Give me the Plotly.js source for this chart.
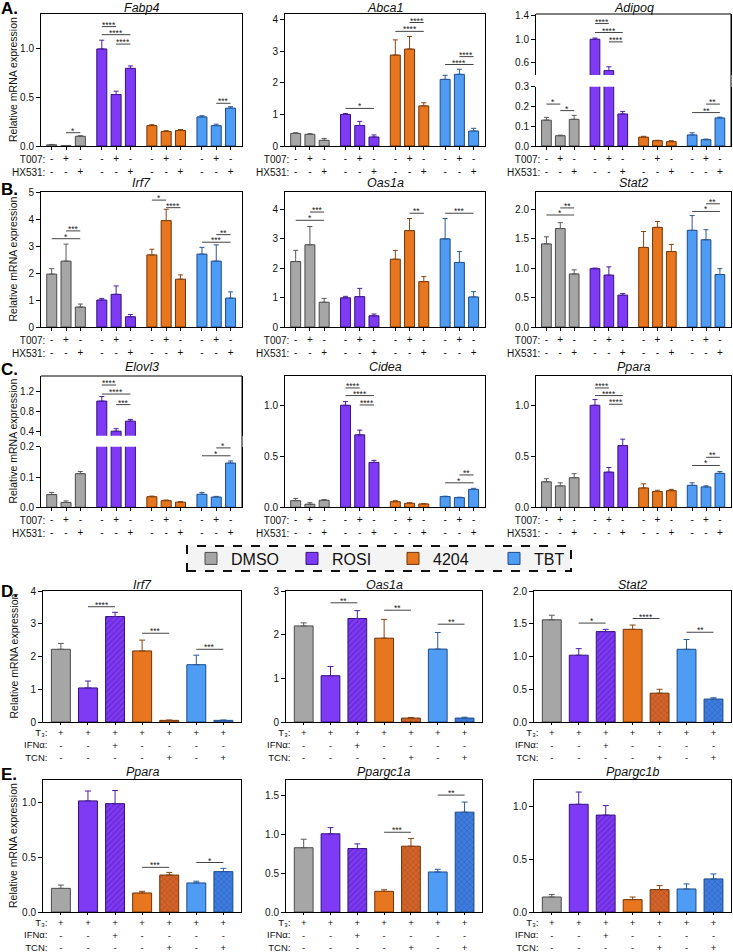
<!DOCTYPE html>
<html><head><meta charset="utf-8">
<script src="https://cdn.plot.ly/plotly-3.0.1.min.js"></script>
<style>html,body{margin:0;padding:0;background:#fff}#chart{width:733px;height:952px}</style>
</head><body><div id="chart"></div>
<script>
// ---------------- DATA ----------------
const groupNames = ['DMSO','ROSI','4204','TBT'];
const t007Row = ['-','+','-'];
const hx531Row = ['-','-','+'];
const t3Row  = ['+','+','+','+','+','+','+'];
const ifnRow = ['-','-','+','-','-','-','-'];
const tcnRow = ['-','-','-','-','+','-','+'];
const bar7Group = [0,1,1,2,2,3,3];

// Panel A
const fabp4Mean = [0.012,0.003,0.10, 1.00,0.53,0.80, 0.21,0.15,0.16, 0.30,0.21,0.39];
const fabp4Err  = [0.004,0.002,0.006, 0.09,0.035,0.025, 0.01,0.008,0.01, 0.012,0.015,0.015];
const fabp4Sig  = [[1,2,0.137,'*'],[3,4,1.23,'****'],[3,5,1.147,'****'],[4,5,1.05,'****'],[10,11,0.44,'***']];
const abca1Mean = [0.40,0.37,0.18, 1.00,0.65,0.285, 2.88,3.07,1.27, 2.11,2.27,0.475];
const abca1Err  = [0.02,0.02,0.06, 0.03,0.13,0.065, 0.48,0.40,0.10, 0.13,0.16,0.085];
const abca1Sig  = [[3,5,1.19,'*'],[7,8,3.91,'****'],[6,8,3.63,'****'],[10,11,2.83,'****'],[9,11,2.58,'****']];
const adipoqMean = [0.131,0.052,0.135, 1.00,0.465,0.162, 0.045,0.027,0.022, 0.056,0.032,0.142];
const adipoqErr  = [0.014,0.003,0.02, 0.02,0.065,0.013, 0.004,0.002,0.005, 0.011,0.003,0.004];
const adipoqSig  = [[0,1,0.212,'*'],[1,2,0.179,'*'],[3,4,1.267,'****'],[3,5,1.114,'****'],[4,5,0.955,'****'],[10,11,0.212,'**'],[9,11,0.169,'**']];
// Panel B
const irf7Mean = [1.96,2.44,0.74, 1.00,1.21,0.38, 2.67,3.94,1.77, 2.70,2.44,1.07];
const irf7Err  = [0.20,0.63,0.11, 0.06,0.31,0.08, 0.21,0.42,0.16, 0.25,0.60,0.23];
const irf7Sig  = [[1,2,3.56,'***'],[0,2,3.27,'*'],[6,7,4.70,'*'],[7,8,4.42,'****'],[10,11,3.42,'**'],[9,11,3.14,'***']];
const oas1aMean = [2.22,2.79,0.84, 0.99,1.03,0.38, 2.30,3.27,1.54, 2.99,2.19,1.02];
const oas1aErr  = [0.38,0.62,0.13, 0.05,0.28,0.06, 0.30,0.41,0.17, 0.69,0.37,0.18];
const oas1aSig  = [[1,2,3.90,'***'],[0,2,3.62,'*'],[7,8,3.86,'**'],[9,11,3.86,'***']];
const stat2Mean = [1.41,1.67,0.90, 0.99,0.88,0.54, 1.35,1.69,1.28, 1.64,1.48,0.89];
const stat2Err  = [0.12,0.10,0.07, 0.01,0.14,0.03, 0.27,0.10,0.12, 0.25,0.17,0.10];
const stat2Sig  = [[1,2,2.02,'**'],[0,2,1.90,'*'],[10,11,2.09,'**'],[9,11,1.96,'*']];
// Panel C
const elovl3Mean = [0.042,0.016,0.111, 1.01,0.41,0.61, 0.035,0.022,0.017, 0.043,0.034,0.146];
const elovl3Err  = [0.007,0.005,0.007, 0.09,0.05,0.035, 0.002,0.002,0.002, 0.006,0.002,0.007];
const elovl3Sig  = [[3,4,1.33,'****'],[3,5,1.15,'****'],[4,5,0.94,'***'],[10,11,0.196,'*'],[9,11,0.17,'*']];
const cideaMean = [0.065,0.03,0.069, 1.00,0.71,0.44, 0.055,0.04,0.033, 0.105,0.095,0.176];
const cideaErr  = [0.022,0.015,0.006, 0.036,0.047,0.02, 0.01,0.005,0.004, 0.004,0.004,0.01];
const cideaSig  = [[3,4,1.17,'****'],[3,5,1.095,'****'],[4,5,1.003,'****'],[10,11,0.317,'**'],[9,11,0.24,'*']];
const pparaCMean = [0.25,0.21,0.29, 1.00,0.345,0.605, 0.19,0.155,0.163, 0.215,0.20,0.333];
const pparaCErr  = [0.03,0.03,0.04, 0.056,0.045,0.063, 0.04,0.012,0.013, 0.025,0.01,0.017];
const pparaCSig  = [[3,4,1.17,'****'],[3,5,1.095,'****'],[4,5,1.01,'****'],[10,11,0.49,'**'],[9,11,0.41,'*']];
// Panel D
const dIrf7Mean = [2.22,1.04,3.22,2.17,0.05,1.75,0.05];
const dIrf7Err  = [0.18,0.21,0.13,0.33,0.01,0.29,0.01];
const dIrf7Sig  = [[1,2,3.52,'****'],[3,4,2.71,'***'],[5,6,2.22,'***']];
const dOas1aMean = [2.20,1.06,2.37,1.92,0.09,1.67,0.09];
const dOas1aErr  = [0.07,0.21,0.18,0.43,0.015,0.38,0.02];
const dOas1aSig  = [[1,2,2.73,'**'],[3,4,2.56,'**'],[5,6,2.24,'**']];
const dStat2Mean = [1.56,1.02,1.38,1.415,0.44,1.11,0.35];
const dStat2Err  = [0.07,0.10,0.035,0.065,0.06,0.15,0.02];
const dStat2Sig  = [[1,2,1.51,'*'],[3,4,1.58,'****'],[5,6,1.37,'**']];
// Panel E
const ePparaMean = [0.215,1.01,0.985,0.173,0.336,0.264,0.367];
const ePparaErr  = [0.03,0.09,0.12,0.015,0.024,0.016,0.03];
const ePparaSig  = [[3,4,0.406,'***'],[5,6,0.45,'*']];
const ePgc1aMean = [0.83,1.01,0.82,0.267,0.85,0.517,1.29];
const ePgc1aErr  = [0.11,0.08,0.06,0.02,0.10,0.035,0.13];
const ePgc1aSig  = [[3,4,1.03,'***'],[5,6,1.51,'**']];
const ePgc1bMean = [0.142,1.02,0.918,0.117,0.212,0.218,0.313];
const ePgc1bErr  = [0.023,0.116,0.09,0.025,0.038,0.048,0.047];
const ePgc1bSig  = [];

// ---------------- STYLE / LAYOUT ----------------
const W = 733, H = 952;
const px = x => x / W, py = y => 1 - y / H;
const FONT = '"Liberation Sans", Arial, Helvetica, sans-serif';
const fill = ['#a6a6a6','#7f3af5','#e8761e','#4e9cf4'];
const edge = ['#4a4a4a','#35137a','#6e3409','#1d4b88'];
const errc = ['#5a5a5a','#4a1fa0','#8a4410','#2a5a9a'];
const fill7 = ['#a6a6a6','#7f3af5','#7f3af5','#e8761e','#d4652a','#4e9cf4','#3f7de0'];
const pat7  = ['','','/','','x','','x'];
const patFg7 = ['#000','#000','#4a18a8','#000','#9a4016','#000','#234fa6'];

const colsTop = [[41,242],[285,485],[536,731]];
const rowsTop = [[14,146],[192,327],[376,507.3]];
const colsBot = [[43,241],[286,482],[534,731]];
const rowsBot = [[591,722],[780,912]];
const titleTop = [8.5, 183, 367];
const titleBot = [585, 772];

const topPanels = [
  {gene:'Fabp4', mean:fabp4Mean, err:fabp4Err, sig:fabp4Sig, row:0, col:0, range:[0,1.36], dtick:0.5, fmt:'.1f'},
  {gene:'Abca1', mean:abca1Mean, err:abca1Err, sig:abca1Sig, row:0, col:1, range:[0,4.18], dtick:1, fmt:'d'},
  {gene:'Adipoq', mean:adipoqMean, err:adipoqErr, sig:adipoqSig, row:0, col:2,
    broken:{lower:[0,0.3], lowerPx:[86.7,146], lowerTicks:[0,0.1,0.2,0.3], upper:[0.39,1.43], upperPx:[14,75], upperTicks:[0.6,1.0,1.4]}},
  {gene:'Irf7', mean:irf7Mean, err:irf7Err, sig:irf7Sig, row:1, col:0, range:[0,5], dtick:1, fmt:'d'},
  {gene:'Oas1a', mean:oas1aMean, err:oas1aErr, sig:oas1aSig, row:1, col:1, range:[0,4.58], dtick:1, fmt:'d'},
  {gene:'Stat2', mean:stat2Mean, err:stat2Err, sig:stat2Sig, row:1, col:2, range:[0,2.29], dtick:0.5, fmt:'.1f'},
  {gene:'Elovl3', mean:elovl3Mean, err:elovl3Err, sig:elovl3Sig, row:2, col:0,
    broken:{lower:[0,0.2], lowerPx:[446.7,507.3], lowerTicks:[0,0.1,0.2], upper:[0.32,1.51], upperPx:[376,435.7], upperTicks:[0.4,0.8,1.2]}},
  {gene:'Cidea', mean:cideaMean, err:cideaErr, sig:cideaSig, row:2, col:1, range:[0,1.287], dtick:0.5, fmt:'.1f'},
  {gene:'Ppara', mean:pparaCMean, err:pparaCErr, sig:pparaCSig, row:2, col:2, range:[0,1.287], dtick:0.5, fmt:'.1f'}
];
const botPanels = [
  {gene:'Irf7', mean:dIrf7Mean, err:dIrf7Err, sig:dIrf7Sig, row:0, col:0, range:[0,4], dtick:1, fmt:'d'},
  {gene:'Oas1a', mean:dOas1aMean, err:dOas1aErr, sig:dOas1aSig, row:0, col:1, range:[0,3], dtick:1, fmt:'d'},
  {gene:'Stat2', mean:dStat2Mean, err:dStat2Err, sig:dStat2Sig, row:0, col:2, range:[0,2], dtick:0.5, fmt:'.1f'},
  {gene:'Ppara', mean:ePparaMean, err:ePparaErr, sig:ePparaSig, row:1, col:0, range:[0,1.2], dtick:0.5, fmt:'.1f'},
  {gene:'Ppargc1a', mean:ePgc1aMean, err:ePgc1aErr, sig:ePgc1aSig, row:1, col:1, range:[0,1.705], dtick:0.5, fmt:'.1f'},
  {gene:'Ppargc1b', mean:ePgc1bMean, err:ePgc1bErr, sig:ePgc1bSig, row:1, col:2, range:[0,1.25], dtick:0.5, fmt:'.1f'}
];

const layout = {
  width: W, height: H, margin:{l:0,r:0,t:0,b:0},
  paper_bgcolor:'#ffffff', plot_bgcolor:'rgba(0,0,0,0)',
  font:{family:FONT, size:10, color:'#111'},
  barmode:'overlay', hovermode:false, showlegend:true,
  legend:{orientation:'h', x:px(191), y:py(558.5), xanchor:'left', yanchor:'middle',
          font:{size:16, family:FONT, color:'#111'}, bgcolor:'rgba(0,0,0,0)', borderwidth:0,
          entrywidth:56, traceorder:'normal'},
  annotations:[], shapes:[]
};
const traces = [];
const xBase = {showline:true, linecolor:'#000', linewidth:1, ticks:'outside', ticklen:3, tickwidth:1, tickcolor:'#000',
  showgrid:false, zeroline:false, tickfont:{size:10, color:'#111'}, fixedrange:true};
const yBase = {showline:true, linecolor:'#000', linewidth:1, ticks:'outside', ticklen:4, tickwidth:1, tickcolor:'#000',
  showgrid:false, zeroline:false, tickfont:{size:10, color:'#111'}, fixedrange:true};

let xc = 0, yc = 0;
const idOf = (l, n) => l + (n > 1 ? n : '');
const keyOf = (l, n) => l + 'axis' + (n > 1 ? n : '');

function addSig(sig, posFn, xId, yPick) {
  sig.forEach(([a, b, v, lab]) => {
    const yId = yPick(v);
    layout.shapes.push({type:'line', xref:xId, yref:yId, x0:posFn(a), x1:posFn(b), y0:v, y1:v, line:{color:'#444', width:1}});
    layout.annotations.push({xref:xId, yref:yId, x:(posFn(a)+posFn(b))/2, y:v, text:lab, showarrow:false,
      yanchor:'bottom', yshift:-4, borderpad:0, font:{size:8.5, color:'#222'}});
  });
}
function addTitle(gene, bx0, bx1, cy) {
  layout.annotations.push({xref:'paper', yref:'paper', x:px((bx0+bx1)/2), y:py(cy), text:'<i>'+gene+'</i>',
    showarrow:false, xanchor:'center', yanchor:'middle', borderpad:0, font:{size:12.5, color:'#111'}});
}

topPanels.forEach(p => {
  const xi = ++xc, yi = ++yc;
  const xId = idOf('x', xi), yId = idOf('y', yi);
  const [bx0, bx1] = colsTop[p.col], [by0, by1] = rowsTop[p.row];
  const pos = i => Math.floor(i/3)*3.5 + i%3;
  const posArr = p.mean.map((_, i) => pos(i));
  layout[keyOf('x', xi)] = Object.assign({}, xBase, {domain:[px(bx0), px(bx1)], range:[-0.75, 13.3], anchor:yId,
    tickvals:posArr, ticktext:posArr.map((_, i) => t007Row[i%3] + '<br>' + hx531Row[i%3]), mirror:!p.broken});
  const yIds = [yId];
  let yPick = () => yId;
  if (!p.broken) {
    layout[keyOf('y', yi)] = Object.assign({}, yBase, {domain:[py(by1), py(by0)], range:p.range, anchor:xId,
      dtick:p.dtick, tick0:0, tickformat:p.fmt, mirror:true});
  } else {
    const b = p.broken;
    layout[keyOf('y', yi)] = Object.assign({}, yBase, {domain:[py(b.lowerPx[1]), py(b.lowerPx[0])], range:b.lower,
      anchor:xId, tickvals:b.lowerTicks, tickformat:'.1f', mirror:true});
    const ui = ++yc, uId = idOf('y', ui);
    layout[keyOf('y', ui)] = Object.assign({}, yBase, {domain:[py(b.upperPx[1]), py(b.upperPx[0])], range:b.upper,
      anchor:xId, tickvals:b.upperTicks, tickformat:'.1f', mirror:true});
    yIds.push(uId);
    yPick = v => (v > b.lower[1] ? uId : yId);
    layout.shapes.push({type:'line', xref:'paper', yref:'paper', x0:px(bx0), x1:px(bx1), y0:py(by0), y1:py(by0), line:{color:'#000', width:1}});
    layout.shapes.push({type:'line', xref:'paper', yref:'paper', x0:px(bx1), x1:px(bx1), y0:py(by0), y1:py(by1), line:{color:'#000', width:1}});
  }
  yIds.forEach((yy, k) => {
    for (let g = 0; g < 4; g++) {
      const sl = [g*3, g*3+3];
      traces.push({type:'bar', xaxis:xId, yaxis:yy, name:groupNames[g],
        x:posArr.slice(...sl), y:p.mean.slice(...sl), width:0.7,
        marker:{color:fill[g], line:{color:edge[g], width:1}},
        error_y:{type:'data', symmetric:false, array:p.err.slice(...sl), arrayminus:[0,0,0], color:errc[g], thickness:1, width:2.5},
        showlegend:(p.gene === 'Fabp4' && k === 0), hoverinfo:'skip'});
    }
  });
  addSig(p.sig, pos, xId, yPick);
  addTitle(p.gene, bx0, bx1, titleTop[p.row]);
  layout.annotations.push({xref:xId, yref:'paper', x:-0.3, y:py(by1 + 6), text:'T007:<br>HX531:', align:'right',
    showarrow:false, xanchor:'right', yanchor:'top', font:{size:10, color:'#111'}});
});

botPanels.forEach(p => {
  const xi = ++xc, yi = ++yc;
  const xId = idOf('x', xi), yId = idOf('y', yi);
  const [bx0, bx1] = colsBot[p.col], [by0, by1] = rowsBot[p.row];
  const pos = i => i;
  const posArr = p.mean.map((_, i) => i);
  layout[keyOf('x', xi)] = Object.assign({}, xBase, {domain:[px(bx0), px(bx1)], range:[-0.66, 6.65], anchor:yId,
    tickvals:posArr, ticktext:posArr.map(i => t3Row[i] + '<br>' + ifnRow[i] + '<br>' + tcnRow[i]), mirror:true,
    ticklen:2, tickfont:{size:9.5, color:'#111'}});
  layout[keyOf('y', yi)] = Object.assign({}, yBase, {domain:[py(by1), py(by0)], range:p.range, anchor:xId,
    dtick:p.dtick, tick0:0, tickformat:p.fmt, mirror:true});
  posArr.forEach(i => {
    const g = bar7Group[i];
    traces.push({type:'bar', xaxis:xId, yaxis:yId, name:groupNames[g], x:[i], y:[p.mean[i]], width:0.7,
      marker:{color:fill7[i], line:{color:edge[g], width:1},
        pattern:{shape:pat7[i], fgcolor:patFg7[i], fillmode:'overlay', size:4, solidity:0.35}},
      error_y:{type:'data', symmetric:false, array:[p.err[i]], arrayminus:[0], color:errc[g], thickness:1, width:3},
      showlegend:false, hoverinfo:'skip'});
  });
  addSig(p.sig, pos, xId, () => yId);
  addTitle(p.gene, bx0, bx1, titleBot[p.row]);
  layout.annotations.push({xref:xId, yref:'paper', x:-0.45, y:py(by1 + 3), text:'T₃:<br>IFNα:<br>TCN:', align:'right',
    showarrow:false, xanchor:'right', yanchor:'top', font:{size:9.5, color:'#111'}});
});

// y-axis titles and panel letters
const yTitleRows = [80, 259.5, 441.6, 656.5, 846];
yTitleRows.forEach(c => layout.annotations.push({xref:'paper', yref:'paper', x:px(13), y:py(c), text:'Relative mRNA expression',
  textangle:-90, showarrow:false, xanchor:'center', yanchor:'middle', font:{size:10.5, color:'#111'}}));
const letters = ['A.','B.','C.','D.','E.'];
const letterY = [9, 190, 370, 591.5, 774];
letters.forEach((t, i) => layout.annotations.push({xref:'paper', yref:'paper', x:px(0), y:py(letterY[i]), text:'<b>'+t+'</b>',
  showarrow:false, xanchor:'left', yanchor:'middle', borderpad:0, font:{size:17, color:'#000'}}));

// legend frame
layout.shapes.push({type:'rect', xref:'paper', yref:'paper', x0:px(187), x1:px(571), y0:py(571), y1:py(546),
  line:{color:'#111', width:2, dash:'dash'}, fillcolor:'#f4f4f4', layer:'below'});

Plotly.newPlot('chart', traces, layout, {displayModeBar:false, staticPlot:true});
</script>
</body></html>
